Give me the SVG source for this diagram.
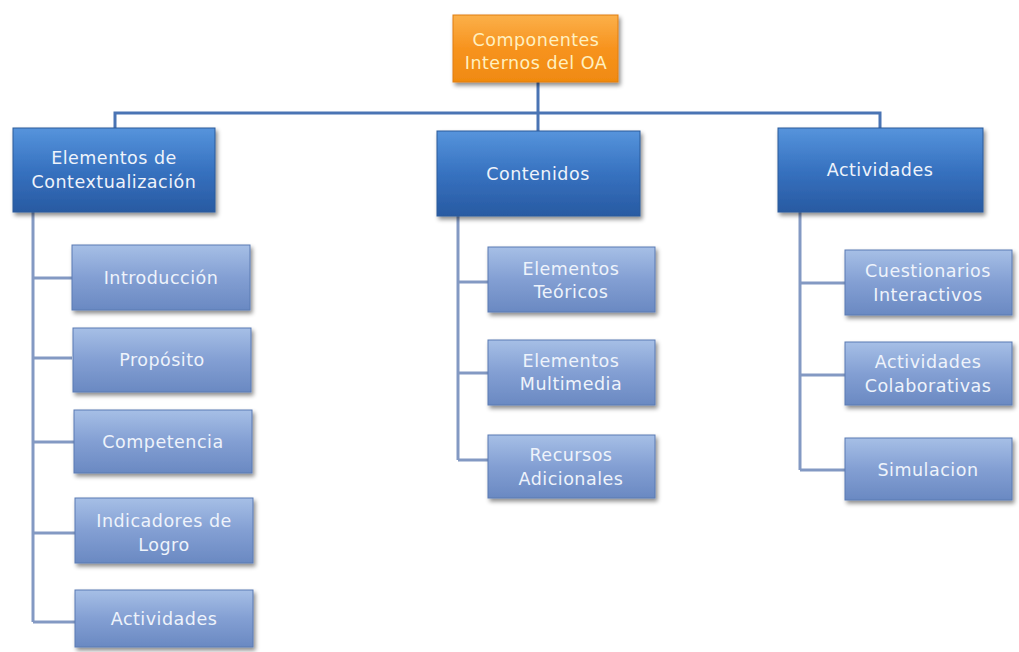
<svg xmlns="http://www.w3.org/2000/svg" width="1019" height="652" viewBox="0 0 1019 652">
<defs>
<linearGradient id="gOrange" x1="0" y1="0" x2="0" y2="1">
<stop offset="0" stop-color="#fbb04a"/><stop offset="0.5" stop-color="#f7931e"/><stop offset="1" stop-color="#f08a10"/>
</linearGradient>
<linearGradient id="gBlue" x1="0" y1="0" x2="0" y2="1">
<stop offset="0" stop-color="#5694dc"/><stop offset="0.5" stop-color="#3772c0"/><stop offset="1" stop-color="#285aa2"/>
</linearGradient>
<linearGradient id="gLight" x1="0" y1="0" x2="0" y2="1">
<stop offset="0" stop-color="#a6bfe6"/><stop offset="0.5" stop-color="#839fd3"/><stop offset="1" stop-color="#6a89c2"/>
</linearGradient>
<filter id="sh" x="-10%" y="-10%" width="125%" height="135%">
<feDropShadow dx="2" dy="3" stdDeviation="2" flood-color="#000" flood-opacity="0.45"/>
</filter>
<style>
.txt{font-family:"DejaVu Sans","Open Sans",sans-serif;font-size:17.5px;letter-spacing:0.5px;fill:#eef3fb;text-anchor:middle}
.rt{fill:#fff0c0}
.l1{fill:url(#gBlue);stroke:#2b5a9a;stroke-width:1;filter:url(#sh)}
.l2{fill:url(#gLight);stroke:#5a7ab3;stroke-width:1;filter:url(#sh)}
.top{fill:none;stroke:#4a74b4;stroke-width:3}
.sub{fill:none;stroke:#8399c3;stroke-width:3}
</style>
</defs>
<rect width="1019" height="652" fill="#fff"/>
<g id="connectors">
<path class="top" d="M538 82 V113 M115 128 V113 H880 V128 M538 113 V132"/>
<path class="sub" d="M33 212 V622 M33 278 H72 M33 358 H72 M33 442 H74 M33 533 H75 M33 622 H75"/>
<path class="sub" d="M458 216 V460 M458 282 H488 M458 373 H488 M458 460 H488"/>
<path class="sub" d="M800 212 V470 M800 283 H845 M800 375 H845 M800 470 H845"/>
</g>
<g id="root">
<rect x="453" y="15" width="165" height="67" fill="url(#gOrange)" stroke="#e07f10" filter="url(#sh)"/>
<text class="txt rt" x="536" y="46">Componentes</text>
<text class="txt rt" x="536" y="69">Internos del OA</text>
</g>
<g id="n-contextualizacion">
<rect class="l1" x="13" y="128" width="202" height="84"/>
<text class="txt" x="114" y="164">Elementos de</text>
<text class="txt" x="114" y="188">Contextualización</text>
</g>
<g id="n-contenidos">
<rect class="l1" x="437" y="131" width="203" height="85"/>
<text class="txt" x="538" y="180">Contenidos</text>
</g>
<g id="n-actividades">
<rect class="l1" x="778" y="128" width="205" height="84"/>
<text class="txt" x="880" y="176">Actividades</text>
</g>
<g id="n-introduccion">
<rect class="l2" x="72" y="245" width="178" height="65"/>
<text class="txt" x="161" y="284">Introducción</text>
</g>
<g id="n-proposito">
<rect class="l2" x="73" y="328" width="178" height="64"/>
<text class="txt" x="162" y="366">Propósito</text>
</g>
<g id="n-competencia">
<rect class="l2" x="74" y="410" width="178" height="63"/>
<text class="txt" x="163" y="448">Competencia</text>
</g>
<g id="n-indicadores">
<rect class="l2" x="75" y="498" width="178" height="65"/>
<text class="txt" x="164" y="527">Indicadores de</text>
<text class="txt" x="164" y="551">Logro</text>
</g>
<g id="n-actividades-l">
<rect class="l2" x="75" y="590" width="178" height="57"/>
<text class="txt" x="164" y="625">Actividades</text>
</g>
<g id="n-teoricos">
<rect class="l2" x="488" y="247" width="167" height="65"/>
<text class="txt" x="571" y="275">Elementos</text>
<text class="txt" x="571" y="298">Teóricos</text>
</g>
<g id="n-multimedia">
<rect class="l2" x="488" y="340" width="167" height="65"/>
<text class="txt" x="571" y="367">Elementos</text>
<text class="txt" x="571" y="390">Multimedia</text>
</g>
<g id="n-recursos">
<rect class="l2" x="488" y="435" width="167" height="63"/>
<text class="txt" x="571" y="461">Recursos</text>
<text class="txt" x="571" y="485">Adicionales</text>
</g>
<g id="n-cuestionarios">
<rect class="l2" x="845" y="250" width="167" height="65"/>
<text class="txt" x="928" y="277">Cuestionarios</text>
<text class="txt" x="928" y="301">Interactivos</text>
</g>
<g id="n-colaborativas">
<rect class="l2" x="845" y="342" width="167" height="63"/>
<text class="txt" x="928" y="368">Actividades</text>
<text class="txt" x="928" y="392">Colaborativas</text>
</g>
<g id="n-simulacion">
<rect class="l2" x="845" y="438" width="167" height="62"/>
<text class="txt" x="928" y="476">Simulacion</text>
</g>
</svg>
